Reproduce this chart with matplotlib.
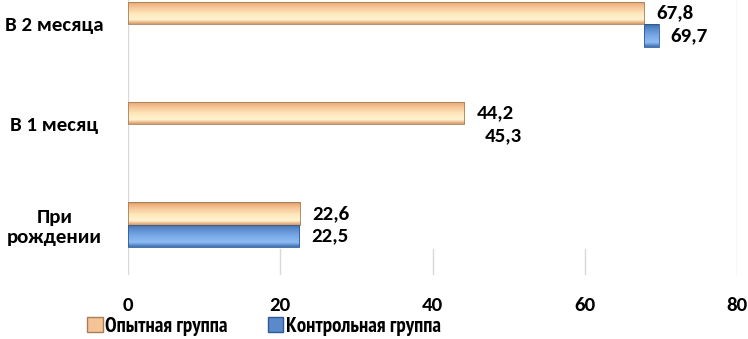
import matplotlib
matplotlib.use("Agg")
import matplotlib.pyplot as plt
import numpy as np
from matplotlib.patches import Patch
from matplotlib.colors import LinearSegmentedColormap
from matplotlib import font_manager
from matplotlib.ft2font import FT2Font

categories = ["При\nрождении", "В 1 месяц", "В 2 месяца"]
experimental = [22.6, 44.2, 67.8]
control = [22.5, 45.3, 69.7]
series_names = ["Опытная группа", "Контрольная группа"]
xticks = [0, 20, 40, 60, 80]
# In the source image the control bars are largely concealed: only the part
# beyond the experimental bar is visible for "В 2 месяца", none for "В 1 месяц".
control_visible = ["full", "none", "tip"]


def pick(prefs, need_cyr=True):
    for p in prefs:
        for f in font_manager.fontManager.ttflist:
            if f.name == p:
                if not need_cyr:
                    return p
                try:
                    cm = FT2Font(f.fname).get_charmap()
                    if 0x0440 in cm and 0x0416 in cm:
                        return p
                except Exception:
                    pass
    return 'Open Sans'


narrow_font = pick(['PT Sans Narrow', 'Roboto Condensed', 'Fira Sans Condensed',
                    'Open Sans Condensed', 'Liberation Sans Narrow', 'Carlito'])
main_font = pick(['Carlito', 'Lato', 'Open Sans'])
nsizes = {'PT Sans Narrow': 15, 'Roboto Condensed': 13.5, 'Fira Sans Condensed': 13.5,
          'Open Sans Condensed': 13.5, 'Liberation Sans Narrow': 13.5, 'Carlito': 13}
LFS = nsizes.get(narrow_font, 12)
NFS = 15 if main_font == 'Carlito' else 13
CFS = 15 if main_font == 'Carlito' else 13

plt.rcParams['font.family'] = [main_font, 'DejaVu Sans']
plt.rcParams['font.weight'] = 'bold'
lfont = dict(family=[narrow_font, 'DejaVu Sans'], weight='bold', size=LFS)
nfont = dict(family=[main_font, 'DejaVu Sans'], weight='bold', size=NFS)
cfont = dict(family=[main_font, 'DejaVu Sans'], weight='bold', size=CFS)

fig = plt.figure(figsize=(7.48, 3.39), dpi=100)
ax = fig.add_axes([128/748, 64/339, 609/748, 275/339])

orange_cmap = LinearSegmentedColormap.from_list("or", [
    (0.0, "#D49C6C"), (0.08, "#F0BC8C"), (0.18, "#FFF3D2"), (0.45, "#FEE8BC"),
    (0.75, "#F5C496"), (0.93, "#EBAB76"), (1.0, "#B48258")])
blue_cmap = LinearSegmentedColormap.from_list("bl", [
    (0.0, "#3F6FAE"), (0.08, "#5B8FD0"), (0.2, "#8FBCF2"), (0.5, "#78A8E6"),
    (0.8, "#5A8ACB"), (0.95, "#4572B0"), (1.0, "#2E5C99")])

h = 0.225
y = np.arange(len(categories))


def shade(rects, cmap, edge):
    for r in rects:
        if r.get_width() <= 0:
            continue
        x0, y0 = r.get_x(), r.get_y()
        x1, y1 = x0 + r.get_width(), y0 + r.get_height()
        grad = np.linspace(1, 0, 64).reshape(-1, 1)  # top -> bottom
        im = ax.imshow(grad, cmap=cmap, vmin=0, vmax=1, extent=(x0, x1, y0, y1),
                       aspect='auto', origin='upper', zorder=3,
                       interpolation='bilinear')
        im.set_clip_path(r)
        r.set_facecolor('none')
        r.set_edgecolor(edge)
        r.set_linewidth(0.6)
        r.set_zorder(4)


exp_rects = ax.barh(y + h/2, experimental, height=h)
shade(exp_rects, orange_cmap, "#A87E58")

c_left, c_width = [], []
for e, c, vis in zip(experimental, control, control_visible):
    if vis == "full":
        c_left.append(0); c_width.append(c)
    elif vis == "tip":
        c_left.append(e); c_width.append(c - e)
    else:
        c_left.append(0); c_width.append(0)
ctl_rects = ax.barh(y - h/2, c_width, left=c_left, height=h)
shade(ctl_rects, blue_cmap, "#2F5A92")

# value labels
for i in range(len(categories)):
    ax.annotate(f"{experimental[i]:.1f}".replace('.', ','), (experimental[i], y[i] + h/2),
                xytext=(12, 0), textcoords='offset pixels', va='center', ha='left',
                color='black', **nfont)
    ax.annotate(f"{control[i]:.1f}".replace('.', ','), (control[i], y[i] - h/2),
                xytext=(12, 0), textcoords='offset pixels', va='center', ha='left',
                color='black', **nfont)

ax.set_xlim(0, 80)
ax.set_ylim(-0.5, 2.24)
ax.set_xticks(xticks)
ax.set_xticklabels([str(t) for t in xticks], **nfont)
ax.set_yticks(y)
ax.set_yticklabels(categories, ha='center', multialignment='center', **cfont)
ax.tick_params(axis='y', length=0, pad=53)
ax.tick_params(axis='x', length=0, pad=16)
for s in ax.spines.values():
    s.set_visible(False)

gc = "#D9D9D9"
ax.axvline(0, color=gc, lw=1, zorder=1)
ax.axvline(80, color=gc, lw=1, zorder=1)
for t in xticks[1:-1]:
    ax.axvline(t, ymin=0, ymax=0.095, color=gc, lw=1, zorder=1)

handles = [Patch(facecolor="#F5C496", edgecolor="#A87E58"),
           Patch(facecolor="#5A8ACB", edgecolor="#2F5A92")]
fig.legend(handles, series_names, loc='center', bbox_to_anchor=(264/748, 1 - 326/339),
           ncol=2, frameon=False, handlelength=0.75, handleheight=0.75,
           handletextpad=0.12, columnspacing=1.9, prop=lfont)

fig.savefig("out.png", dpi=100)
